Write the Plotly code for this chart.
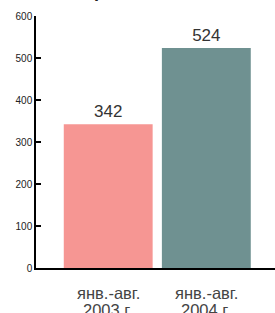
import plotly.graph_objects as go

categories = ["янв.-авг. 2003 г.", "янв.-авг. 2004 г."]
label_line1 = ["янв.-авг.", "янв.-авг."]
label_line2 = ["2003 г.", "2004 г."]
values = [342, 524]
colors = ["#F69693", "#6F9191"]
tick_vals = [0, 100, 200, 300, 400, 500, 600]
title_text = "<b>Прибыль, млн</b>"

fig = go.Figure()
fig.add_trace(go.Bar(
    x=categories, y=values,
    marker=dict(color=colors, line=dict(width=0)),
    text=[str(v) for v in values], textposition="outside",
    textfont=dict(family="Liberation Sans, Arial", size=17, color="#333333"),
    cliponaxis=False,
))

annotations = [dict(
    text=title_text, xref="paper", yref="paper", x=0.46, y=1,
    xanchor="center", yanchor="bottom", yshift=13, showarrow=False,
    font=dict(size=18, color="#222222", family="Liberation Sans, Arial"),
)]
for c, l1, l2 in zip(categories, label_line1, label_line2):
    annotations.append(dict(
        text=l1, x=c, xref="x", y=0, yref="paper", yanchor="middle",
        yshift=-24.5, showarrow=False,
        font=dict(size=16.5, color="#444444", family="Liberation Sans, Arial")))
    annotations.append(dict(
        text=l2, x=c, xref="x", y=0, yref="paper", yanchor="middle",
        yshift=-41.5, showarrow=False,
        font=dict(size=16.5, color="#444444", family="Liberation Sans, Arial")))

fig.update_layout(
    width=275, height=313,
    margin=dict(l=36, r=0, t=16, b=44.5, autoexpand=False),
    paper_bgcolor="white", plot_bgcolor="white",
    showlegend=False,
    bargap=0.094,
    font=dict(family="Liberation Sans, Arial", color="#333333"),
    xaxis=dict(
        type="category", range=[-0.736, 1.70], showline=True, linecolor="black",
        linewidth=1.5, ticks="", showgrid=False, zeroline=False, automargin=False,
        showticklabels=False,
    ),
    yaxis=dict(
        range=[0, 600], tickvals=tick_vals, showline=True, linecolor="black",
        linewidth=1.5, ticks="inside", ticklen=5, tickwidth=1.5, tickcolor="black",
        showgrid=False, zeroline=False, automargin=False,
        tickfont=dict(size=10, color="#222222"),
    ),
    annotations=annotations,
)

fig.write_html("out.html", config={"displayModeBar": False},
               post_script="document.body.style.margin='0';")
